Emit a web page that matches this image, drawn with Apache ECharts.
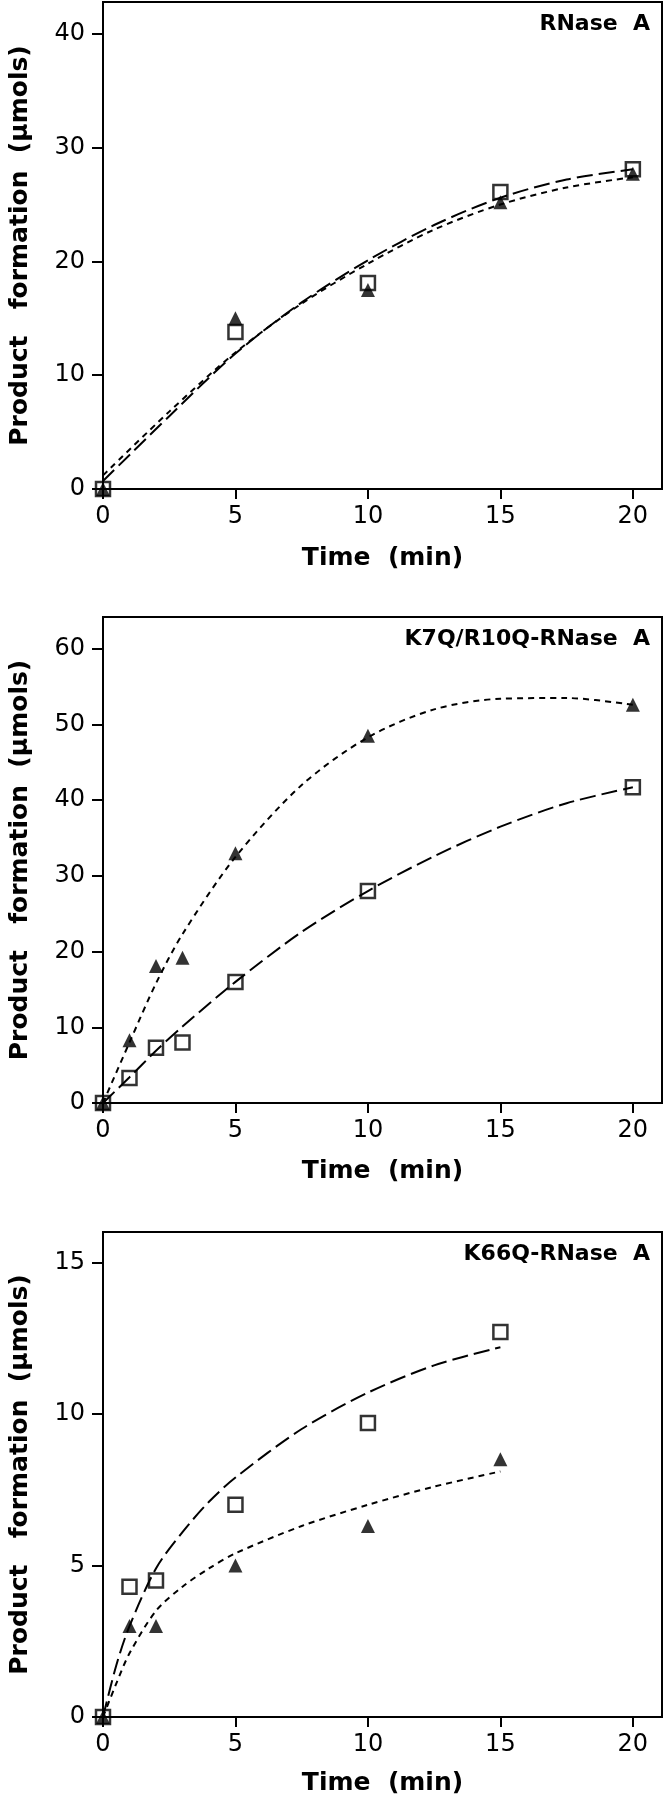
<!DOCTYPE html>
<html>
<head>
<meta charset="utf-8">
<script src="https://cdn.jsdelivr.net/npm/echarts@6/dist/echarts.min.js"></script>
<style>
html,body{margin:0;padding:0;background:#fff;}
#chart{width:667px;height:1800px;}
</style>
</head>
<body>
<div id="chart"></div>
<script>
// ---------- data ----------
const panelTitles = ['RNase  A', 'K7Q/R10Q-RNase  A', 'K66Q-RNase  A'];
const xTicks = [0, 5, 10, 15, 20];
const yTicks1 = [0, 10, 20, 30, 40];
const yTicks2 = [0, 10, 20, 30, 40, 50, 60];
const yTicks3 = [0, 5, 10, 15];

// Panel 1: RNase A
const time1 = [0, 5, 10, 15, 20];
const squares1 = [0, 13.8, 18.1, 26.1, 28.1];
const triangles1 = [0, 15.0, 17.5, 25.2, 27.7];
const fitTime1 = [0, 2.5, 5, 7.5, 10, 12.5, 15, 17.5, 20];
const fitSquares1 = [0.7, 6.4, 11.9, 16.4, 20.1, 23.2, 25.6, 27.2, 28.1];
const fitTriangles1 = [1.2, 6.8, 12.0, 16.3, 19.8, 22.8, 25.0, 26.5, 27.4];

// Panel 2: K7Q/R10Q-RNase A
const time2 = [0, 1, 2, 3, 5, 10, 20];
const squares2 = [0, 3.3, 7.3, 8.0, 16.0, 28.0, 41.7];
const triangles2 = [0, 8.3, 18.1, 19.2, 33.0, 48.5, 52.6];
const fitTime2 = [0, 1, 2, 3, 5, 7.5, 10, 12.5, 15, 17.5, 20];
const fitSquares2 = [0, 3.4, 6.9, 10.1, 16.0, 22.6, 28.0, 32.6, 36.5, 39.6, 41.7];
const fitTriangles2 = [0, 8.0, 15.8, 22.3, 32.5, 42.0, 48.3, 52.0, 53.4, 53.5, 52.6];

// Panel 3: K66Q-RNase A
const time3 = [0, 1, 2, 5, 10, 15];
const squares3 = [0, 4.3, 4.5, 7.0, 9.7, 12.7];
const triangles3 = [0, 3.0, 3.0, 5.0, 6.3, 8.5];
const fitTime3 = [0, 0.5, 1, 2, 3, 4, 5, 7.5, 10, 12.5, 15];
const fitSquares3 = [0, 1.7, 3.0, 4.9, 6.1, 7.1, 7.9, 9.5, 10.7, 11.6, 12.2];
const fitTriangles3 = [0, 1.1, 2.1, 3.5, 4.3, 4.9, 5.4, 6.3, 7.0, 7.6, 8.1];

// ---------- build ----------
const FONT = 'DejaVu Sans';
const pair = (xs, ys) => xs.map((x, i) => [x, ys[i]]);

const panels = [
  {top: 2, height: 487, yMax: 42.8, yTicks: yTicks1, nameGap: 57,
   t: time1, sq: squares1, tr: triangles1, ft: fitTime1, fs: fitSquares1, ftr: fitTriangles1},
  {top: 617, height: 486, yMax: 64.2, yTicks: yTicks2, nameGap: 56,
   t: time2, sq: squares2, tr: triangles2, ft: fitTime2, fs: fitSquares2, ftr: fitTriangles2},
  {top: 1232, height: 485, yMax: 16.0, yTicks: yTicks3, nameGap: 54,
   t: time3, sq: squares3, tr: triangles3, ft: fitTime3, fs: fitSquares3, ftr: fitTriangles3}
];

const grid = [], xAxis = [], yAxis = [], series = [], title = [];
panels.forEach((p, i) => {
  grid.push({left: 101, right: 5, top: p.top, height: p.height,
    show: true, borderColor: '#000', borderWidth: 2, containLabel: false});
  title.push({text: panelTitles[i], right: 12, top: p.top + 6,
    textStyle: {fontFamily: FONT, fontSize: 22, fontWeight: 'bold', color: '#000'}});
  xAxis.push({
    gridIndex: i, type: 'value', min: 0, max: 21.1,
    axisLine: {show: true, onZero: false, lineStyle: {color: '#000', width: 2}},
    axisTick: {show: true, length: 10, customValues: xTicks, lineStyle: {color: '#000', width: 2}},
    axisLabel: {customValues: xTicks, margin: 16, fontFamily: FONT, fontSize: 24, color: '#000'},
    splitLine: {show: false},
    name: 'Time  (min)', nameLocation: 'middle', nameGap: p.nameGap,
    nameTextStyle: {fontFamily: FONT, fontSize: 25, fontWeight: 'bold', color: '#000'}
  });
  yAxis.push({
    gridIndex: i, type: 'value', min: 0, max: p.yMax,
    axisLine: {show: true, onZero: false, lineStyle: {color: '#000', width: 2}},
    axisTick: {show: true, length: 11, customValues: p.yTicks, lineStyle: {color: '#000', width: 2}},
    axisLabel: {customValues: p.yTicks, margin: 18, fontFamily: FONT, fontSize: 24, color: '#000'},
    splitLine: {show: false},
    name: 'Product   formation  (µmols)', nameLocation: 'middle', nameGap: 70,
    nameTextStyle: {fontFamily: FONT, fontSize: 25, fontWeight: 'bold', color: '#000'}
  });
  series.push({
    type: 'line', xAxisIndex: i, yAxisIndex: i, data: pair(p.ft, p.fs),
    smooth: 0.3, showSymbol: false, silent: true, z: 2,
    lineStyle: {color: '#000', width: 2, type: [16, 6]}
  });
  series.push({
    type: 'line', xAxisIndex: i, yAxisIndex: i, data: pair(p.ft, p.ftr),
    smooth: 0.3, showSymbol: false, silent: true, z: 2,
    lineStyle: {color: '#000', width: 2, type: [6, 5]}
  });
  series.push({
    type: 'scatter', xAxisIndex: i, yAxisIndex: i, data: pair(p.t, p.tr),
    symbol: 'triangle', symbolSize: 14, z: 3,
    itemStyle: {color: '#000'}
  });
  series.push({
    type: 'scatter', xAxisIndex: i, yAxisIndex: i, data: pair(p.t, p.sq),
    symbol: 'rect', symbolSize: 14, z: 4,
    itemStyle: {color: 'rgba(255,255,255,0)', borderColor: '#000', borderWidth: 2.5}
  });
});

const chart = echarts.init(document.getElementById('chart'), null, {renderer: 'canvas'});
chart.setOption({
  animation: false,
  backgroundColor: '#fff',
  title, grid, xAxis, yAxis, series
});
</script>
</body>
</html>
